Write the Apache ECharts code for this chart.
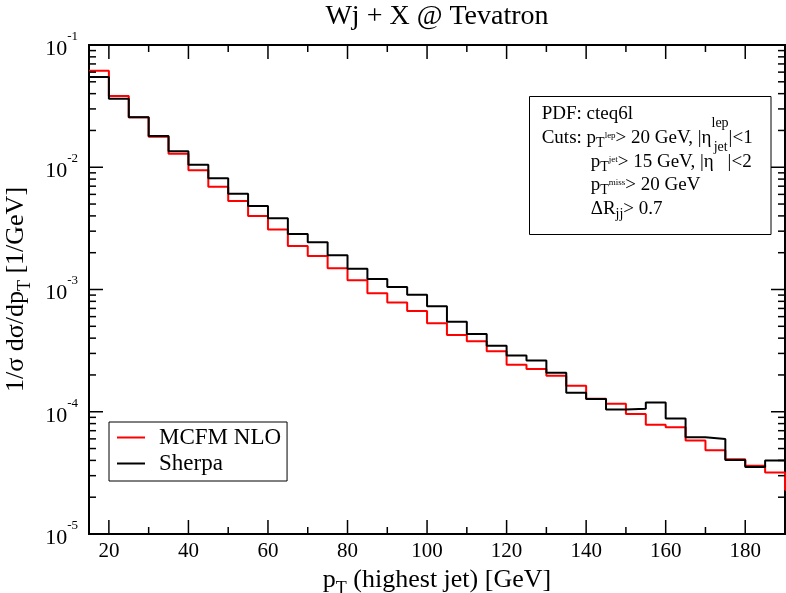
<!DOCTYPE html>
<html>
<head>
<meta charset="utf-8">
<title>Wj + X @ Tevatron</title>
<script src="https://cdn.jsdelivr.net/npm/echarts@6.0.0/dist/echarts.min.js"></script>
<style>
  html, body { margin: 0; padding: 0; background: #fff; }
  #chart { width: 786px; height: 593px; }
</style>
</head>
<body>
<div id="chart"></div>
<script>
  var FONT = "'Liberation Serif', 'DejaVu Serif', serif";

  // histogram bin edges, p_T of the leading jet [GeV]
  var binEdges = [15, 20, 25, 30, 35, 40, 45, 50, 55, 60, 65, 70, 75, 80, 85, 90, 95, 100,
    105, 110, 115, 120, 125, 130, 135, 140, 145, 150, 155, 160, 165, 170, 175, 180, 185, 190, 195];

  // 1/sigma dsigma/dpT [1/GeV], one value per bin
  var mcfmNlo = [0.0617, 0.0383, 0.0256, 0.0178, 0.0129, 0.00945, 0.00694, 0.0053, 0.0040, 0.0031,
    0.00227, 0.00188, 0.00149, 0.00119, 0.00093, 0.000782, 0.000668, 0.00053, 0.000425, 0.000377,
    0.000312, 0.000242, 0.000224, 0.000197, 0.000163, 0.000128, 0.000116, 9.58e-5, 7.82e-5, 7.48e-5,
    5.81e-5, 4.85e-5, 4.08e-5, 3.61e-5, 3.19e-5, 2.3e-5];
  var sherpa = [0.0547, 0.0364, 0.0256, 0.01803, 0.01352, 0.0105, 0.00813, 0.00608, 0.00483, 0.00383,
    0.00284, 0.00244, 0.00191, 0.00148, 0.00122, 0.00105, 0.000904, 0.00073, 0.000546, 0.000433,
    0.000347, 0.000288, 0.000262, 0.000208, 0.000143, 0.000127, 0.0001045, 0.0001057, 0.000119, 8.81e-5,
    6.18e-5, 5.98e-5, 4.03e-5, 3.53e-5, 3.99e-5];

  // ticks
  var xTickMajor = [20, 40, 60, 80, 100, 120, 140, 160, 180];
  var xTickMinor = [30, 50, 70, 90, 110, 130, 150, 170];
  var yDecades = [1e-5, 1e-4, 1e-3, 1e-2, 1e-1];
  var yMinorFactors = [2, 3, 4, 5, 6, 7, 8, 9];

  // histogram -> step points (step at bin edges)
  function stepPoints(values) {
    var pts = values.map(function (v, i) { return [binEdges[i], v]; });
    pts.push([binEdges[values.length], values[values.length - 1]]);
    return pts;
  }

  // tick items for the custom series: [x, y, kind]
  // kind 0 = x major, 1 = x minor, 2 = y major, 3 = y minor
  var tickItems = [];
  xTickMajor.forEach(function (v) { tickItems.push([v, 1e-3, 0]); });
  xTickMinor.forEach(function (v) { tickItems.push([v, 1e-3, 1]); });
  yDecades.forEach(function (d, i) {
    tickItems.push([100, d, 2]);
    if (i < yDecades.length - 1) {
      yMinorFactors.forEach(function (f) { tickItems.push([100, d * f, 3]); });
    }
  });

  var chart = echarts.init(document.getElementById('chart'));

  var infoRich = {
    n: {fontFamily: FONT, fontSize: 19, color: '#000', padding: [0, 0, 4, 0], verticalAlign: 'bottom'},
    sub: {fontFamily: FONT, fontSize: 14, color: '#000', padding: [0, 0, 1, 0], verticalAlign: 'bottom'},
    tiny: {fontFamily: FONT, fontSize: 9, color: '#000', padding: [0, 0, 11, 0], verticalAlign: 'bottom'},
    sup: {fontFamily: FONT, fontSize: 14, color: '#000', padding: [0, 0, 21, 0], verticalAlign: 'bottom'}
  };

  function infoLine(x, y, text) {
    return {
      type: 'text', x: x, y: y, z: 100,
      style: {text: text, rich: infoRich, textVerticalAlign: 'bottom', textAlign: 'left', fill: '#000'}
    };
  }

  var option = {
    animation: false,
    backgroundColor: '#fff',
    grid: {
      left: 89, right: 1, top: 45, bottom: 59,
      show: true, borderColor: '#000', borderWidth: 2,
      backgroundColor: 'transparent',
      containLabel: false, outerBoundsMode: 'none'
    },
    xAxis: {
      type: 'value', min: 15, max: 190, interval: 5,
      axisLine: {show: false}, axisTick: {show: false}, splitLine: {show: false},
      axisLabel: {
        margin: 7, fontFamily: FONT, fontSize: 21, color: '#000',
        formatter: function (v) { return xTickMajor.indexOf(v) >= 0 ? String(v) : ''; }
      },
      name: '{n|p}{sub|T}{n| (highest jet) [GeV]}',
      nameLocation: 'middle', nameGap: 29,
      nameTextStyle: {
        fontFamily: FONT, fontSize: 26, color: '#000',
        rich: {
          n: {fontFamily: FONT, fontSize: 26, color: '#000', padding: [0, 0, 5, 0], verticalAlign: 'bottom'},
          sub: {fontFamily: FONT, fontSize: 18, color: '#000', padding: [0, 0, 0, 0], verticalAlign: 'bottom'}
        }
      }
    },
    yAxis: {
      type: 'log', logBase: 10, min: 1e-5, max: 1e-1,
      axisLine: {show: false}, axisTick: {show: false}, splitLine: {show: false},
      axisLabel: {
        margin: 11,
        formatter: function (v) {
          return '{b|10}{s|' + Math.round(Math.log10(v)) + '}';
        },
        rich: {
          b: {fontFamily: FONT, fontSize: 22, color: '#000', verticalAlign: 'bottom'},
          s: {fontFamily: FONT, fontSize: 13, color: '#000', padding: [0, 0, 17, 0], verticalAlign: 'bottom'}
        }
      },
      name: '{n|1/σ dσ/dp}{sub|T}{n| [1/GeV]}',
      nameLocation: 'middle', nameGap: 52,
      nameTextStyle: {
        fontFamily: FONT, fontSize: 26, color: '#000',
        rich: {
          n: {fontFamily: FONT, fontSize: 26, color: '#000', padding: [0, 0, 5, 0], verticalAlign: 'bottom'},
          sub: {fontFamily: FONT, fontSize: 18, color: '#000', padding: [0, 0, 0, 0], verticalAlign: 'bottom'}
        }
      }
    },
    legend: {
      orient: 'vertical', left: 109, top: 422,
      data: ['MCFM NLO', 'Sherpa'],
      icon: 'rect',
      itemWidth: 28, itemHeight: 2, itemGap: 3,
      padding: [4, 6, 6, 8],
      borderColor: '#000', borderWidth: 1, borderRadius: 0,
      backgroundColor: '#fff',
      textStyle: {fontFamily: FONT, fontSize: 23, color: '#000', padding: [0, 0, 0, 9], lineHeight: 23}
    },
    series: [
      {
        name: 'MCFM NLO', type: 'line', step: 'end',
        data: stepPoints(mcfmNlo),
        symbol: 'none', lineStyle: {color: '#ff0000', width: 2}, itemStyle: {color: '#ff0000'}
      },
      {
        name: 'Sherpa', type: 'line', step: 'end',
        data: stepPoints(sherpa),
        symbol: 'none', lineStyle: {color: '#000', width: 2}, itemStyle: {color: '#000'}
      },
      {
        name: 'ticks', type: 'custom', silent: true, z: 5,
        data: tickItems,
        encode: {x: 0, y: 1},
        renderItem: function (params, api) {
          var cs = params.coordSys;
          var kind = api.value(2);
          var len = (kind % 2 === 0) ? 14 : 7;
          var st = {stroke: '#000', lineWidth: 1.5};
          if (kind < 2) {
            var px = api.coord([api.value(0), 1e-3])[0];
            return {type: 'group', children: [
              {type: 'line', shape: {x1: px, y1: cs.y + cs.height, x2: px, y2: cs.y + cs.height - len}, style: st},
              {type: 'line', shape: {x1: px, y1: cs.y, x2: px, y2: cs.y + len}, style: st}
            ]};
          }
          var py = api.coord([100, api.value(1)])[1];
          return {type: 'group', children: [
            {type: 'line', shape: {x1: cs.x, y1: py, x2: cs.x + len, y2: py}, style: st},
            {type: 'line', shape: {x1: cs.x + cs.width, y1: py, x2: cs.x + cs.width - len, y2: py}, style: st}
          ]};
        }
      }
    ],
    graphic: [
      {
        type: 'text', x: 437, y: 16.5,
        style: {text: 'Wj + X @ Tevatron', font: '28px ' + FONT, fill: '#000',
          textAlign: 'center', textVerticalAlign: 'middle'}
      },
      {
        type: 'rect', z: 99,
        shape: {x: 529.5, y: 96.5, width: 241.5, height: 138},
        style: {fill: '#fff', stroke: '#000', lineWidth: 1}
      },
      infoLine(541.7, 127.6, '{n|PDF: cteq6l}'),
      infoLine(541.7, 151.4, '{n|Cuts: p}{sub|T}{tiny|lep}{n|> 20 GeV, |η}{sup|lep}{n||<1}'),
      infoLine(590.7, 175.4, '{n|p}{sub|T}{tiny|jet}{n|> 15 GeV, |η}{sup|jet}{n||<2}'),
      infoLine(590.7, 198.6, '{n|p}{sub|T}{tiny|miss}{n|> 20 GeV}'),
      infoLine(590.7, 222.1, '{n|ΔR}{sub|jj}{n|> 0.7}')
    ]
  };

  chart.setOption(option);
</script>
</body>
</html>
